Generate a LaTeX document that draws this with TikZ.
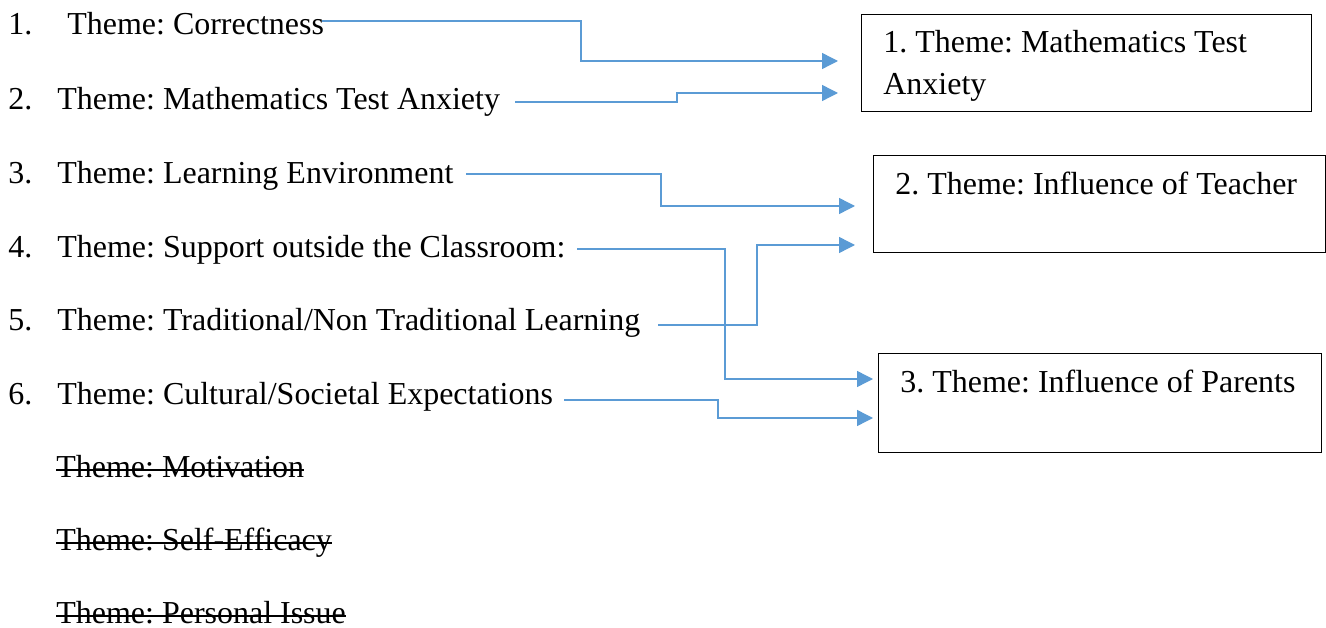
\documentclass[tikz,border=0pt]{standalone}
\usepackage{fontspec}
\setmainfont{Liberation Serif}
\usetikzlibrary{arrows.meta}
\definecolor{linkblue}{HTML}{5B9BD5}
\frenchspacing

\begin{document}
\begin{tikzpicture}[x=0.02cm,y=-0.02cm,font=\fontsize{18.2}{21}\selectfont]
  \tikzstyle{item}=[inner sep=0pt,anchor=base west]
  \tikzstyle{box}=[draw=black,line width=0.8pt,anchor=north west,inner sep=0pt]
  \tikzstyle{link}=[draw=linkblue,line width=0.8pt,-{Triangle[length=0.32cm,width=0.32cm]}]
  \tikzstyle{gone}=[draw=black,line width=0.6pt]
  \useasboundingbox (0,0) rectangle (1326,628);
  % themes on the left
  \node[item] (n1) at (8,35) {1.};
  \node[item] (t1) at (67,35) {Theme: Correctness};
  \node[item] (n2) at (8,110) {2.};
  \node[item] (t2) at (57,110) {Theme: Mathematics Test Anxiety};
  \node[item] (n3) at (8,184) {3.};
  \node[item] (t3) at (57,184) {Theme: Learning Environment};
  \node[item] (n4) at (8,258) {4.};
  \node[item] (t4) at (57,258) {Theme: Support outside the Classroom:};
  \node[item] (n5) at (8,331) {5.};
  \node[item] (t5) at (57,331) {Theme: Traditional/Non Traditional Learning};
  \node[item] (n6) at (8,404) {6.};
  \node[item] (t6) at (57,404) {Theme: Cultural/Societal Expectations};
  % dropped themes
  \node[item] (s7) at (56,477) {Theme: Motivation};
  \node[item] (s8) at (56,550) {Theme: Self-Efficacy};
  \node[item] (s9) at (56,623) {Theme: Personal Issue};
  \draw[gone] ([yshift=0.14cm]s7.base west) -- ([yshift=0.14cm]s7.base east);
  \draw[gone] ([yshift=0.14cm]s8.base west) -- ([yshift=0.14cm]s8.base east);
  \draw[gone] ([yshift=0.14cm]s9.base west) -- ([yshift=0.14cm]s9.base east);
  % merged themes
  \node[box,minimum width=9cm,minimum height=1.94cm] (b1) at (861,14) {};
  \node[item] (l1) at (883,53) {1. Theme: Mathematics Test};
  \node[item] (l1b) at (883,95) {Anxiety};
  \node[box,minimum width=9.04cm,minimum height=1.94cm] (b2) at (873,155) {};
  \node[item] (l2) at (895,195) {2. Theme: Influence of Teacher};
  \node[box,minimum width=8.86cm,minimum height=1.98cm] (b3) at (878,353) {};
  \node[item] (l3) at (900,393) {3. Theme: Influence of Parents};
  % connectors
  \coordinate (a1) at (322,21);  \coordinate (k1) at (581,0);  \coordinate (z1) at (838,61);
  \coordinate (a2) at (515,102); \coordinate (k2) at (677,0);  \coordinate (z2) at (838,93);
  \coordinate (a3) at (466,174); \coordinate (k3) at (661,0);  \coordinate (z3) at (855,206);
  \coordinate (a4) at (577,249); \coordinate (k4) at (725,0);  \coordinate (z4) at (873,379);
  \coordinate (a5) at (658,325); \coordinate (k5) at (757,0);  \coordinate (z5) at (855,245);
  \coordinate (a6) at (564,400); \coordinate (k6) at (718,0);  \coordinate (z6) at (873,418);
  \draw[link] (a1) -| (k1 |- z1) -- (z1);
  \draw[link] (a2) -| (k2 |- z2) -- (z2);
  \draw[link] (a3) -| (k3 |- z3) -- (z3);
  \draw[link] (a4) -| (k4 |- z4) -- (z4);
  \draw[link] (a5) -| (k5 |- z5) -- (z5);
  \draw[link] (a6) -| (k6 |- z6) -- (z6);
\end{tikzpicture}
\end{document}
